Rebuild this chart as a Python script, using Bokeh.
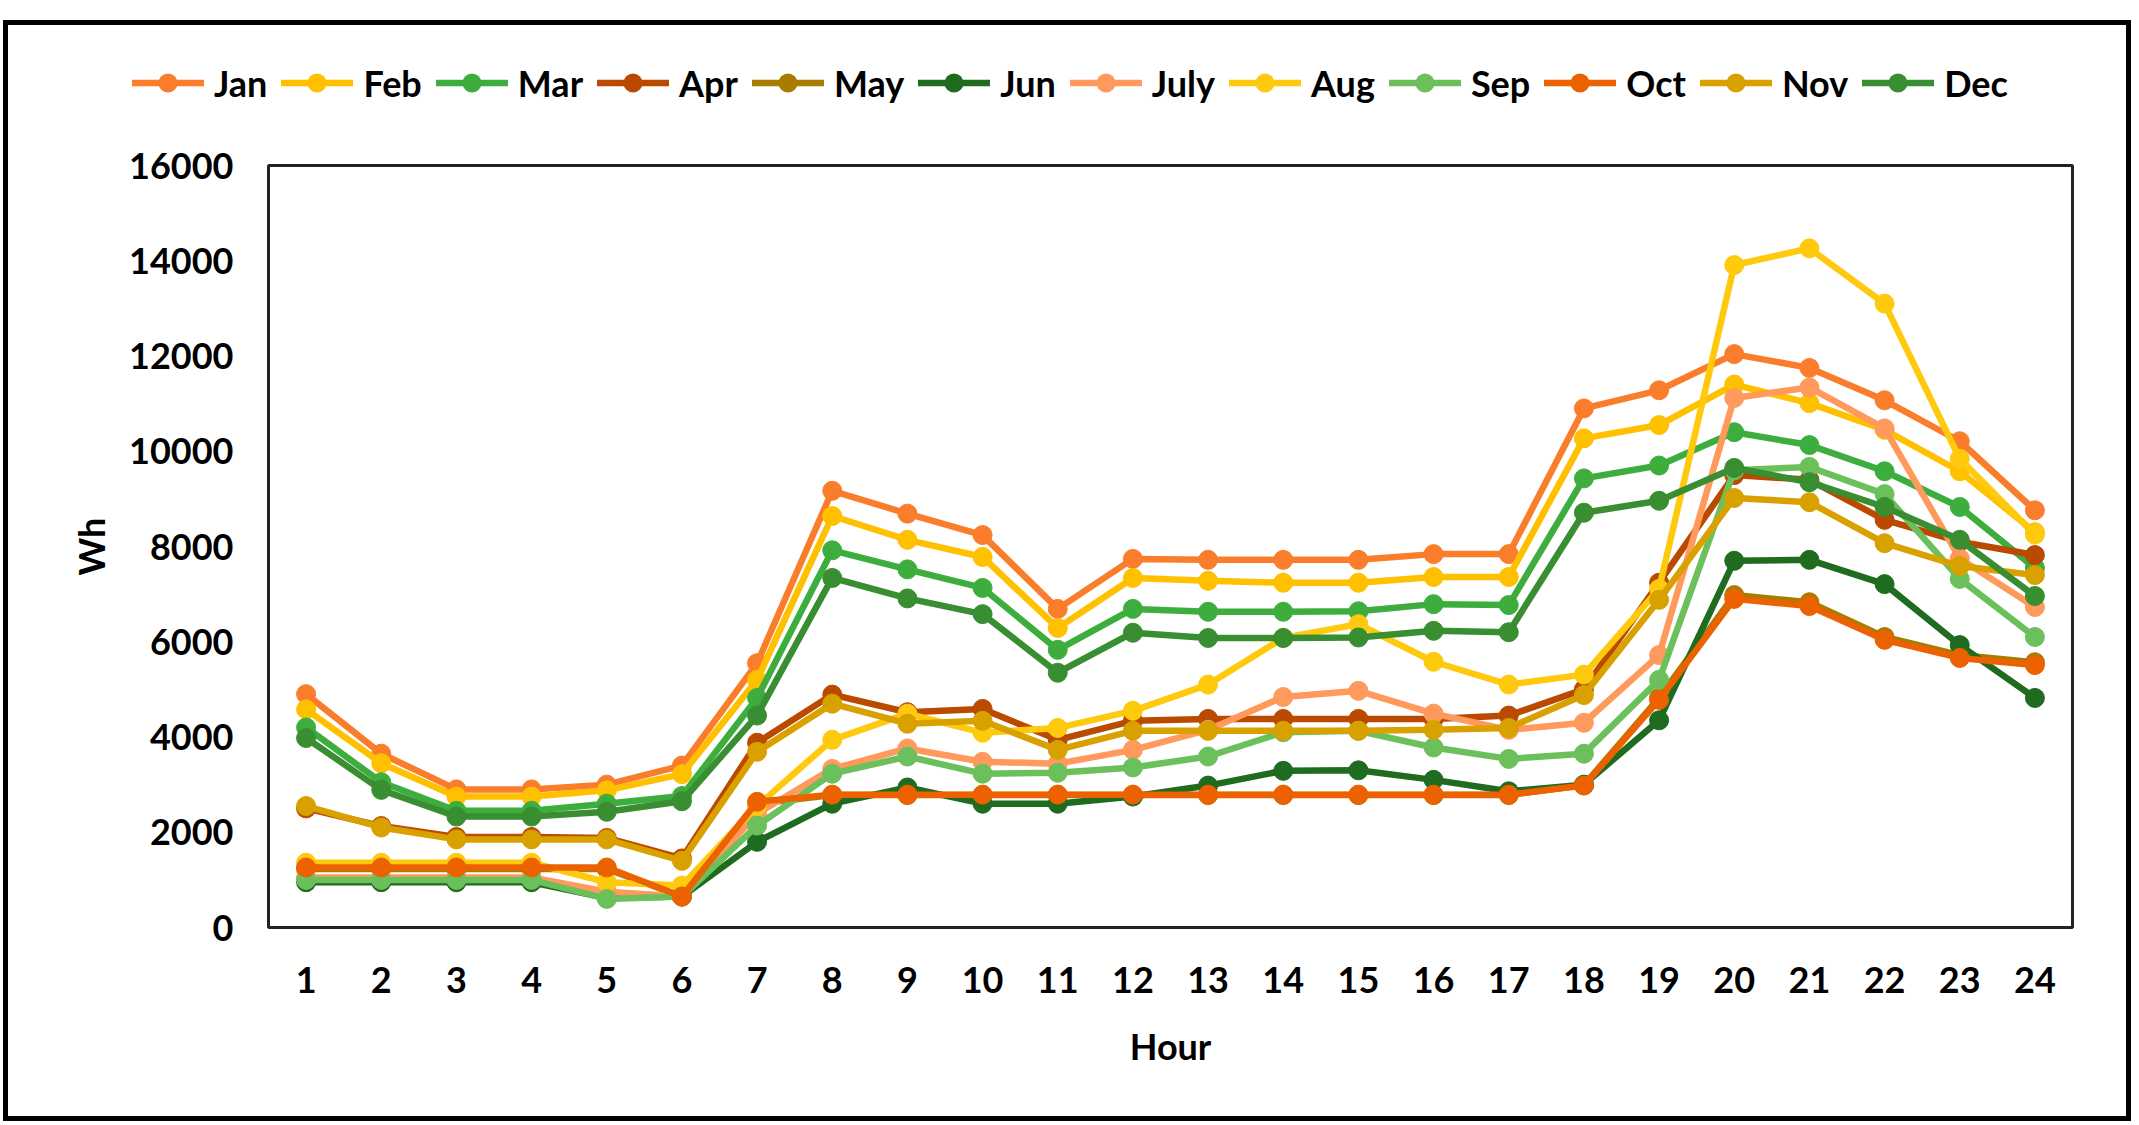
from bokeh.plotting import figure
from bokeh.layouts import column
from bokeh.models import Range1d, FixedTicker, BasicTickFormatter, Div
from bokeh.embed import file_html
from bokeh.resources import INLINE

hours = list(range(1, 25))
months = ["Jan", "Feb", "Mar", "Apr", "May", "Jun", "July", "Aug", "Sep", "Oct", "Nov", "Dec"]

jan = [4900, 3650, 2900, 2900, 3000, 3400, 5550, 9170, 8690, 8240, 6690, 7740, 7720, 7720, 7720, 7840, 7840, 10900, 11280, 12040, 11750, 11070, 10210, 8760]
feb = [4580, 3450, 2750, 2750, 2880, 3220, 5200, 8640, 8140, 7780, 6290, 7340, 7280, 7240, 7240, 7360, 7360, 10270, 10550, 11400, 11010, 10450, 9580, 8300]
mar = [4200, 3050, 2450, 2450, 2600, 2760, 4820, 7920, 7520, 7130, 5830, 6690, 6630, 6630, 6640, 6790, 6770, 9430, 9700, 10400, 10130, 9580, 8830, 7550]
apr = [2500, 2130, 1900, 1900, 1880, 1450, 3880, 4890, 4520, 4590, 3940, 4340, 4380, 4380, 4380, 4380, 4450, 5000, 7240, 9500, 9400, 8560, 8100, 7820]
may = [1230, 1230, 1230, 1230, 1230, 650, 2600, 2780, 2780, 2780, 2780, 2780, 2780, 2780, 2780, 2780, 2780, 2990, 4820, 6980, 6830, 6100, 5720, 5570]
jun = [950, 950, 950, 950, 620, 650, 1800, 2600, 2940, 2600, 2600, 2750, 2980, 3290, 3300, 3100, 2860, 3000, 4350, 7700, 7720, 7210, 5930, 4820]
jul = [1050, 1050, 1050, 1050, 750, 650, 2390, 3330, 3760, 3480, 3440, 3730, 4150, 4840, 4970, 4490, 4150, 4300, 5720, 11120, 11340, 10480, 7750, 6730]
aug = [1360, 1360, 1360, 1360, 950, 880, 2550, 3940, 4490, 4090, 4190, 4550, 5100, 6080, 6370, 5580, 5100, 5310, 7110, 13910, 14260, 13100, 9840, 8250]
sep = [1000, 1000, 1000, 1000, 600, 650, 2140, 3230, 3590, 3230, 3250, 3360, 3590, 4100, 4130, 3780, 3540, 3650, 5200, 9600, 9670, 9100, 7320, 6100]
octo = [1260, 1260, 1260, 1260, 1260, 650, 2640, 2790, 2790, 2790, 2790, 2790, 2790, 2790, 2790, 2790, 2790, 2980, 4780, 6900, 6750, 6040, 5660, 5510]
nov = [2550, 2100, 1850, 1850, 1850, 1400, 3690, 4700, 4280, 4340, 3730, 4130, 4130, 4130, 4130, 4150, 4190, 4880, 6880, 9020, 8930, 8070, 7590, 7400]
dec = [3980, 2890, 2330, 2330, 2430, 2650, 4450, 7340, 6910, 6580, 5350, 6190, 6080, 6080, 6090, 6230, 6200, 8710, 8960, 9650, 9350, 8830, 8140, 6960]

series = [jan, feb, mar, apr, may, jun, jul, aug, sep, octo, nov, dec]
colors = ["#FA7D2C", "#FFC000", "#3DAE3D", "#B94A00", "#A97C00", "#1F6B1F",
          "#FF9A5C", "#FFC90E", "#6CC05C", "#EC6200", "#D9A100", "#388E30"]
y_ticks = [0, 2000, 4000, 6000, 8000, 10000, 12000, 14000, 16000]

FONT = "Lato"
FS = "36px"
LW = 6.5
MS = 19

# ---- legend strip (top) ----
entries = "".join(
    f'<div style="display:flex;align-items:center;margin-right:14px;">'
    f'<svg width="72" height="40"><line x1="0" y1="20" x2="72" y2="20" stroke="{c}" stroke-width="{LW}"/>'
    f'<circle cx="36" cy="20" r="{MS / 2}" fill="{c}"/></svg>'
    f'<span style="margin-left:10px;">{m}</span></div>'
    for m, c in zip(months, colors))
legend_html = (f'<div style="display:flex;align-items:center;height:40px;padding-top:53px;'
               f'padding-left:119px;font-family:{FONT};font-weight:bold;font-size:{FS};'
               f'color:black;white-space:nowrap;line-height:40px;">{entries}</div>')
leg = Div(text=legend_html, width=2108, height=100)

# ---- main chart ----
p = figure(width=2108, height=981, output_backend="svg", toolbar_location=None,
           x_range=Range1d(0.5, 24.5), y_range=Range1d(0, 16000),
           min_border_left=260, min_border_right=44, min_border_top=30, min_border_bottom=189)
p.xgrid.visible = False
p.ygrid.visible = False
p.outline_line_color = "#222222"
p.outline_line_width = 3
p.background_fill_color = "white"
p.border_fill_color = "white"

for ax in (p.xaxis[0], p.yaxis[0]):
    ax.axis_line_color = None
    ax.major_tick_line_color = None
    ax.minor_tick_line_color = None
    ax.major_label_text_font = FONT
    ax.major_label_text_font_style = "bold"
    ax.major_label_text_font_size = FS
    ax.major_label_text_color = "black"
    ax.axis_label_text_font = FONT
    ax.axis_label_text_font_style = "bold"
    ax.axis_label_text_font_size = FS
    ax.axis_label_text_color = "black"

p.xaxis.ticker = FixedTicker(ticks=hours)
p.xaxis.major_label_standoff = 33
p.xaxis.axis_label_standoff = 28
p.xaxis.axis_label = "Hour"
p.yaxis.ticker = FixedTicker(ticks=y_ticks)
p.yaxis.formatter = BasicTickFormatter(use_scientific=False)
p.yaxis.major_label_standoff = 29
p.yaxis.axis_label_standoff = 13
p.yaxis.axis_label = "Wh"

for name, vals, col in zip(months, series, colors):
    p.line(hours, vals, line_color=col, line_width=LW)
    p.scatter(hours, vals, marker="circle", size=MS, fill_color=col, line_color=col)

page = column(leg, p, spacing=0, styles={"margin-top": "20px", "margin-left": "3px",
                                          "border": "5px solid black",
                                          "background-color": "white"})

open("out.html", "w").write(file_html(page, INLINE))
